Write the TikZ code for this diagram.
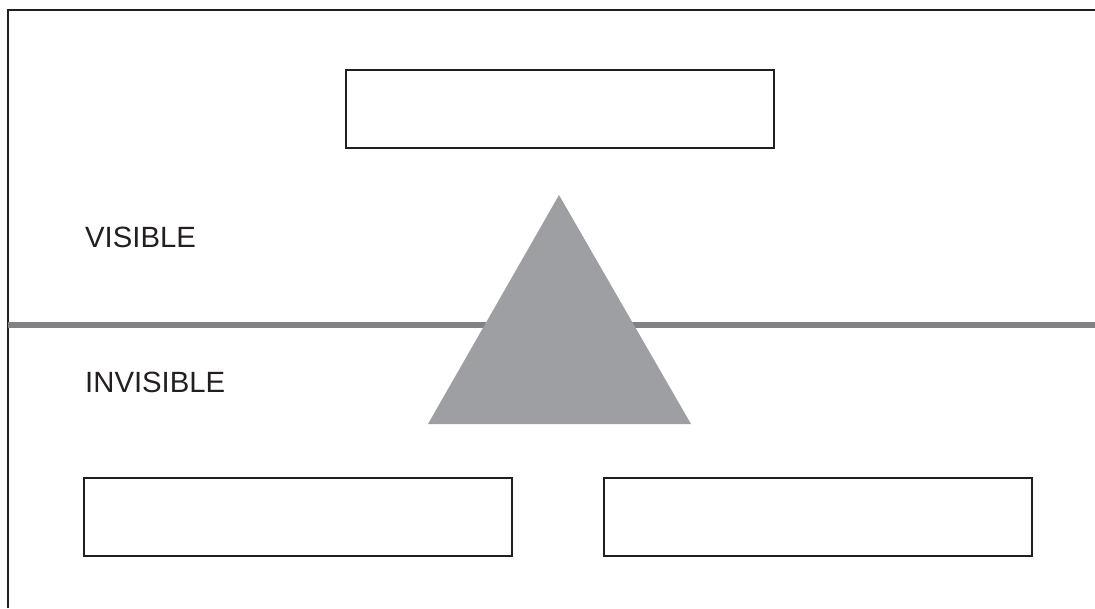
\documentclass[tikz,border=0pt]{standalone}
\usepackage{fontspec}
\setmainfont{Liberation Sans}
\usetikzlibrary{positioning}
\definecolor{inkblack}{HTML}{231F20}
\definecolor{rulegray}{HTML}{808285}
\definecolor{peakgray}{HTML}{9D9FA2}

\begin{document}
\begin{tikzpicture}[x=1pt,y=-1pt,
    bx/.style={draw=inkblack,line width=2pt,minimum width=428pt,minimum height=78pt,inner sep=0pt},
    lbl/.style={font=\fontsize{29.3}{35}\selectfont,text=inkblack,inner sep=0pt,anchor=base west}
]
\useasboundingbox (0,0) rectangle (1095,608);
% frame corner
\draw[inkblack,line width=2.6pt] (8,608) -- (8,10) -- (1095,10);
% waterline
\draw[rulegray,line width=6.5pt] (8,325) -- (1095,325);
% iceberg
\fill[peakgray] (559,195) -- (428,424) -- (691,424) -- cycle;

\node[bx] (top) at (559.5,108.5) {};
\node[bx] (lowleft) at (298,516.5) {};
\node[bx,right=90pt of lowleft] (lowright) {};

\node[lbl] (vis) at (85,247) {VISIBLE};
\node[lbl] (invis) at (85,392) {INVISIBLE};
\end{tikzpicture}
\end{document}
